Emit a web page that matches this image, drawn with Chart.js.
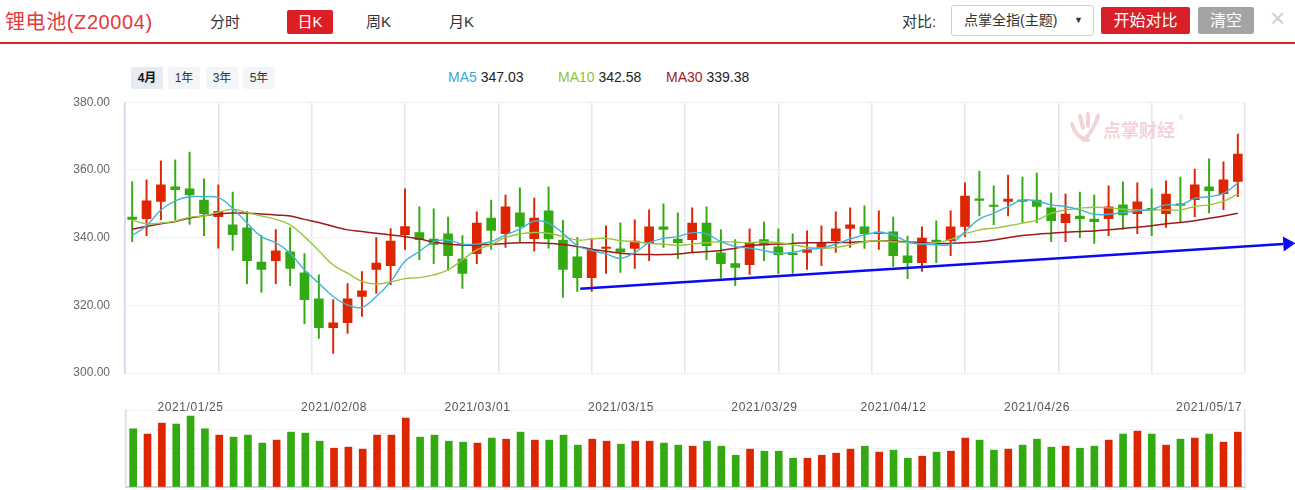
<!DOCTYPE html>
<html><head><meta charset="utf-8">
<script src="https://cdn.jsdelivr.net/npm/chart.js@4.4.1/dist/chart.umd.min.js"></script>
<style>
html,body{margin:0;padding:0;background:#fff;width:1295px;height:490px;overflow:hidden;font-family:"Liberation Sans","Noto Sans CJK SC",sans-serif;}
.abs{position:absolute;white-space:nowrap;}
canvas{display:block;}
#title{left:5px;top:8px;font-size:20px;color:#e5393f;line-height:28px;letter-spacing:0.6px;}
.tab{top:10px;height:24px;line-height:24px;font-size:15px;color:#333;}
#tabDay{left:287px;width:46px;background:#dc1f27;color:#fff;text-align:center;border-radius:2px;}
#redline{left:0;top:42px;width:1295px;height:2px;background:#d9242c;}
.pbtn{top:67px;height:22px;line-height:22px;width:32px;text-align:center;font-size:12px;color:#333;background:#f4f5f7;border-radius:2px;}
.ma{top:67px;line-height:20px;font-size:14px;color:#222;}
#dd{left:951px;top:5px;width:141px;height:29px;border:1px solid #cfcfcf;border-radius:3px;background:#fff;}
.btn{top:7px;height:27px;line-height:27px;text-align:center;color:#fff;font-size:16px;border-radius:2px;}
</style></head>
<body>
<div class="abs" id="title">锂电池(Z20004)</div>
<div class="abs tab" style="left:210px;">分时</div>
<div class="abs tab" id="tabDay">日K</div>
<div class="abs tab" style="left:366px;">周K</div>
<div class="abs tab" style="left:449px;">月K</div>
<div class="abs" style="left:902px;top:10px;line-height:24px;font-size:15px;color:#333;">对比:</div>
<div class="abs" id="dd"><span class="abs" style="left:12px;top:4px;line-height:20px;font-size:14px;color:#333;">点掌全指(主题)</span><span class="abs" style="left:122px;top:5px;line-height:18px;font-size:9px;color:#333;">▼</span></div>
<div class="abs btn" style="left:1101px;width:89px;background:#d9202a;">开始对比</div>
<div class="abs btn" style="left:1198px;width:56px;background:#a4a4a4;">清空</div>
<div class="abs" style="left:1270px;top:4px;font-size:26px;line-height:28px;color:#d0d0d0;">×</div>
<div class="abs" id="redline"></div>

<div class="abs pbtn" style="left:131px;background:#e5eaf3;font-weight:bold;color:#111;">4月</div>
<div class="abs pbtn" style="left:168px;">1年</div>
<div class="abs pbtn" style="left:206px;">3年</div>
<div class="abs pbtn" style="left:243px;">5年</div>

<div class="abs ma" style="left:448px;"><span style="color:#3aa8d6">MA5</span> 347.03</div>
<div class="abs ma" style="left:558px;"><span style="color:#8fbf3a">MA10</span> 342.58</div>
<div class="abs ma" style="left:666px;"><span style="color:#a01c1c">MA30</span> 339.38</div>

<div class="abs" style="left:0;top:95px;width:1295px;height:290px;"><canvas id="main" width="1295" height="290"></canvas></div>
<div class="abs" style="left:0;top:398px;width:1295px;height:92px;"><canvas id="vol" width="1295" height="92"></canvas></div>

<svg class="abs" style="left:1068px;top:110px;" width="36" height="36" viewBox="0 0 36 36">
  <g fill="none" stroke="#f3d3d7" stroke-width="4" stroke-linecap="round">
    <path d="M4 14 Q8 28 20 30"/>
    <path d="M12 6 L15 18"/>
    <path d="M20 4 L20 16"/>
    <path d="M30 6 Q26 20 16 30"/>
  </g>
</svg>
<div class="abs" style="left:1103px;top:119px;font-size:18px;line-height:24px;font-weight:bold;color:#f3d3d7;">点掌财经</div>
<div class="abs" style="left:1178px;top:113px;font-size:8px;color:#f3d3d7;">®</div>

<script>
const dates = ['2021/01/19','2021/01/20','2021/01/21','2021/01/22','2021/01/25','2021/01/26','2021/01/27','2021/01/28','2021/01/29','2021/02/01',
'2021/02/02','2021/02/03','2021/02/04','2021/02/05','2021/02/08','2021/02/09','2021/02/10','2021/02/18','2021/02/19','2021/02/22',
'2021/02/23','2021/02/24','2021/02/25','2021/02/26','2021/03/01','2021/03/02','2021/03/03','2021/03/04','2021/03/05','2021/03/08',
'2021/03/09','2021/03/10','2021/03/11','2021/03/12','2021/03/15','2021/03/16','2021/03/17','2021/03/18','2021/03/19','2021/03/22',
'2021/03/23','2021/03/24','2021/03/25','2021/03/26','2021/03/29','2021/03/30','2021/03/31','2021/04/01','2021/04/02','2021/04/06',
'2021/04/07','2021/04/08','2021/04/09','2021/04/12','2021/04/13','2021/04/14','2021/04/15','2021/04/16','2021/04/19','2021/04/20',
'2021/04/21','2021/04/22','2021/04/23','2021/04/26','2021/04/27','2021/04/28','2021/04/29','2021/04/30','2021/05/06','2021/05/07',
'2021/05/10','2021/05/11','2021/05/12','2021/05/13','2021/05/14','2021/05/17','2021/05/18','2021/05/19'];

const tickLabels = ['2021/01/25','2021/02/08','2021/03/01','2021/03/15','2021/03/29','2021/04/12','2021/04/26','2021/05/17'];
const priceTicks = [300, 320, 340, 360, 380];

const opens = [346.1,345.6,350.7,355.0,354.4,351.1,346.2,343.8,342.9,332.8,
333.2,335.8,329.6,321.9,313.4,314.9,322.6,330.6,331.7,340.9,
341.5,339.6,341.1,333.7,335.3,345.8,341.2,347.3,339.7,347.9,
339.3,334.3,328.2,336.8,336.7,336.8,338.5,343.2,339.6,339.4,
344.3,335.5,332.3,332.0,339.4,337.3,335.3,335.6,336.8,339.1,
342.7,343.2,341.2,341.7,334.6,332.6,339.3,339.1,343.3,351.4,
349.5,350.7,351.1,351.1,348.8,344.4,346.4,345.5,345.6,349.7,
347.1,348.5,347.1,350.0,351.2,355.0,353.0,356.6];
const highs = [356.5,357.1,362.7,363.0,365.3,357.4,355.6,353.5,347.7,340.6,
342.4,343.0,335.3,329.0,321.7,326.4,330.0,340.0,342.7,354.4,
349.1,348.5,346.1,340.6,347.6,351.1,352.6,354.7,351.7,355.0,
345.1,340.0,339.7,343.5,344.4,345.3,348.2,350.0,347.3,348.8,
349.1,342.3,339.4,342.6,344.6,342.6,341.1,342.0,343.5,347.6,
348.8,349.4,347.9,346.1,340.5,343.2,345.0,347.9,356.2,359.7,
355.3,358.5,357.9,359.1,353.2,352.9,353.5,352.6,355.3,356.5,
356.2,354.4,356.8,357.9,360.3,363.3,362.4,370.6];
const lows = [338.8,340.6,345.3,345.3,343.9,340.6,336.9,336.2,326.4,323.8,
326.4,325.8,314.6,310.2,305.8,311.7,316.7,323.5,326.1,336.5,
333.5,332.3,330.3,325.0,332.3,336.5,337.1,338.8,336.0,336.9,
322.3,324.1,324.1,329.4,329.7,330.9,333.2,337.1,333.8,335.7,
333.5,328.1,325.8,329.1,333.2,329.4,329.4,330.6,331.7,335.6,
337.1,336.8,336.5,331.5,327.9,330.0,332.6,334.7,340.3,346.4,
343.8,346.4,344.5,344.4,338.8,338.8,340.0,338.3,340.6,342.4,
341.2,340.6,343.0,344.4,346.2,347.3,348.3,352.1];
const closes = [345.4,350.9,355.6,354.2,352.6,347.1,347.8,340.9,333.2,330.6,
336.1,330.9,321.7,313.4,314.8,321.9,324.3,332.5,339.0,343.3,
339.4,338.0,334.7,329.4,344.3,342.1,349.1,343.3,345.8,339.7,
330.6,328.2,336.5,337.0,335.8,339.0,343.2,342.4,338.5,344.3,
337.6,332.3,331.2,338.5,337.8,335.0,335.0,336.5,338.5,342.6,
343.8,341.2,341.5,334.7,332.6,339.9,338.8,343.2,352.3,351.0,
349.2,351.4,350.7,349.2,345.0,347.0,345.6,344.7,349.1,346.7,
350.6,348.2,352.9,349.5,355.6,353.9,357.1,364.7];

const ma5 = [340.6,343.5,348.2,350.9,352.1,352.1,351.8,348.7,344.3,340.3,
338.5,335.4,330.5,326.5,322.6,320.1,319.4,322.6,327.0,333.0,
335.9,338.8,339.3,338.1,338.1,338.8,340.8,342.5,344.9,344.3,
341.3,337.6,336.2,335.2,333.9,335.6,338.5,339.8,340.3,341.5,
341.1,338.8,337.4,336.9,336.2,335.4,335.6,336.6,336.9,338.1,
339.6,340.8,341.6,340.8,338.8,338.1,337.9,338.1,341.8,345.5,
347.2,349.2,351.1,350.8,349.7,349.2,348.2,346.9,346.9,347.4,
347.9,348.4,349.7,349.7,351.6,352.1,353.1,356.1];
const ma10 = [345.2,344.1,344.3,344.9,346.0,346.4,347.5,348.4,347.4,346.4,
345.4,343.8,340.3,336.1,331.9,329.5,327.1,326.3,326.9,327.9,
328.2,329.0,330.5,333.4,336.4,337.9,340.1,341.1,341.5,341.3,
340.3,339.3,339.6,339.8,339.1,338.8,338.3,338.1,337.7,338.1,
338.5,338.8,338.7,338.5,338.8,338.5,337.9,337.2,336.9,337.1,
337.9,338.8,339.1,338.8,338.5,338.1,338.5,339.5,341.1,342.3,
342.8,343.5,344.3,345.2,347.2,348.2,348.7,349.0,348.8,348.4,
348.2,348.2,348.2,348.2,349.2,349.7,350.7,352.9];
const ma30 = [342.5,343.3,344.1,344.8,345.8,346.5,347.0,347.3,347.2,347.0,
346.7,346.4,345.4,344.5,343.3,342.3,341.8,341.3,340.8,340.3,
339.6,338.7,338.1,337.8,337.8,338.0,338.3,338.5,338.5,338.3,
338.0,337.4,336.6,336.0,335.4,335.1,335.0,335.0,335.2,335.6,
335.9,336.2,336.9,337.6,338.0,338.1,338.3,338.5,338.5,338.6,
338.6,338.8,339.1,339.0,338.7,338.6,338.3,338.3,338.5,338.8,
339.3,340.0,340.6,341.0,341.3,341.6,341.8,342.0,342.3,342.7,
343.1,343.5,344.1,344.5,345.0,345.7,346.4,347.2];

const volumes = [60.5,55.0,66.4,65.4,73.7,60.5,53.9,51.8,53.9,45.6,
48.7,57.0,56.0,47.6,40.3,41.4,39.3,53.9,53.9,71.6,
51.8,53.9,47.6,46.6,45.6,50.8,49.7,57.0,48.7,48.7,
53.9,43.5,49.7,47.6,44.5,47.6,47.6,45.6,43.5,42.4,
47.6,42.4,33.0,39.3,37.2,37.2,29.9,29.9,33.0,35.1,
39.3,42.4,36.2,38.3,29.9,32.0,36.2,37.2,50.8,48.7,
38.3,39.3,43.5,49.7,41.4,42.4,40.3,42.4,48.7,55.0,
58.1,55.0,43.5,49.7,50.8,55.0,46.6,57.0];

// hand-drawn trend arrow annotation: [category index, price]
const trendStart = [31.2, 324.9];
const trendEnd = [81.0, 338.35];

const UP = '#dd2600', DOWN = '#33aa11';
const candleColors = opens.map((o,i)=> closes[i] >= o ? UP : DOWN);
const FONT = '"Liberation Sans", "Noto Sans CJK SC", sans-serif';

const arrowPlugin = {
  id:'trendArrow',
  afterDatasetsDraw(chart){
    const {ctx, scales:{x, y}} = chart;
    const x1 = x.getPixelForValue(trendStart[0]), y1 = y.getPixelForValue(trendStart[1]);
    const x2 = x.getPixelForValue(trendEnd[0]), y2 = y.getPixelForValue(trendEnd[1]);
    const ang = Math.atan2(y2-y1, x2-x1);
    const len = 12, hw = 7.5;
    const bx = x2 - len*Math.cos(ang), by = y2 - len*Math.sin(ang);
    ctx.save();
    ctx.strokeStyle = '#0a0af5'; ctx.fillStyle = '#0a0af5';
    ctx.lineWidth = 2.5;
    ctx.beginPath(); ctx.moveTo(x1, y1); ctx.lineTo(bx, by); ctx.stroke();
    ctx.beginPath();
    ctx.moveTo(x2, y2);
    ctx.lineTo(bx + hw*Math.sin(ang), by - hw*Math.cos(ang));
    ctx.lineTo(bx - hw*Math.sin(ang), by + hw*Math.cos(ang));
    ctx.closePath(); ctx.fill();
    ctx.restore();
  }
};

new Chart(document.getElementById('main'), {
  type:'bar',
  data:{
    labels: dates,
    datasets:[
      {type:'line', label:'MA5', data:ma5, borderColor:'#3fb4dc', borderWidth:1.4, pointRadius:0, tension:0.4, order:0, xAxisID:'x', yAxisID:'y'},
      {type:'line', label:'MA10', data:ma10, borderColor:'#9bc53d', borderWidth:1.4, pointRadius:0, tension:0.4, order:0, xAxisID:'x', yAxisID:'y'},
      {type:'line', label:'MA30', data:ma30, borderColor:'#9e1a1a', borderWidth:1.5, pointRadius:0, tension:0.4, order:0, xAxisID:'x', yAxisID:'y'},
      {label:'wick', data: lows.map((l,i)=>[l, highs[i]]), backgroundColor:candleColors, barThickness:1.3, grouped:false, order:2, xAxisID:'x', yAxisID:'y'},
      {label:'body', data: opens.map((o,i)=>[o, closes[i]]), backgroundColor:candleColors, barThickness:9, grouped:false, minBarLength:1.5, order:1, xAxisID:'x', yAxisID:'y'}
    ]
  },
  options:{
    responsive:false, animation:false, devicePixelRatio:1,
    layout:{padding:{left:0, right:50, top:7.3, bottom:12}},
    plugins:{legend:{display:false}, tooltip:{enabled:false}},
    scales:{
      x:{type:'category', offset:true, display:false},
      xg:{type:'linear', min:0, max:12, offset:false, position:'bottom', ticks:{display:false, stepSize:1, maxTicksLimit:20},
          grid:{offset:false, color:'#e2e7ef', lineWidth:1.5, drawTicks:false}, border:{display:false},
          afterFit:s=>{s.height=0;}},
      y:{min:300, max:380, afterBuildTicks:s=>{s.ticks = priceTicks.map(v=>({value:v}));},
         ticks:{padding:0, color:'#666', font:{size:12, family:FONT}, callback:v=>Number(v).toFixed(2)},
         grid:{color:'#f0f1f3', drawTicks:true, tickLength:15, tickColor:'rgba(0,0,0,0)'}, border:{color:'#cfd9e7', width:1.5},
         afterFit:s=>{s.width=125;}}
    }
  },
  plugins:[arrowPlugin]
});

const dateLabelPlugin = {
  id:'dateLabels',
  afterDraw(chart){
    const {ctx, chartArea, scales:{x}} = chart;
    ctx.save();
    ctx.font = '12px ' + FONT;
    try { ctx.letterSpacing = '0.6px'; } catch(e) {}
    ctx.fillStyle = '#555';
    ctx.textAlign = 'center'; ctx.textBaseline = 'middle';
    tickLabels.forEach(lbl=>{
      const idx = dates.indexOf(lbl);
      ctx.fillText(lbl, x.getPixelForValue(idx), chartArea.top - 2);
    });
    ctx.restore();
  }
};

new Chart(document.getElementById('vol'), {
  type:'bar',
  data:{labels:dates, datasets:[{data:volumes, backgroundColor:candleColors, barThickness:7}]},
  options:{
    responsive:false, animation:false, devicePixelRatio:1,
    layout:{padding:{left:0, right:50, top:12, bottom:3}},
    plugins:{legend:{display:false}, tooltip:{enabled:false}},
    scales:{
      x:{type:'category', offset:true, ticks:{display:false}, grid:{display:false, drawTicks:false},
         border:{color:'#c9d4e4', width:2}, afterFit:s=>{s.height=0;}},
      y:{min:0, max:80, ticks:{display:false, stepSize:20}, grid:{color:'#f2f3f5', drawTicks:false},
         border:{color:'#d3dce9', width:1.5}, afterFit:s=>{s.width=126;}},
      yr:{position:'right', min:0, max:80, ticks:{display:false}, grid:{display:false, drawTicks:false},
         border:{color:'#dde4ee', width:1.5}, afterFit:s=>{s.width=0;}}
    }
  },
  plugins:[dateLabelPlugin]
});
</script>
</body></html>
